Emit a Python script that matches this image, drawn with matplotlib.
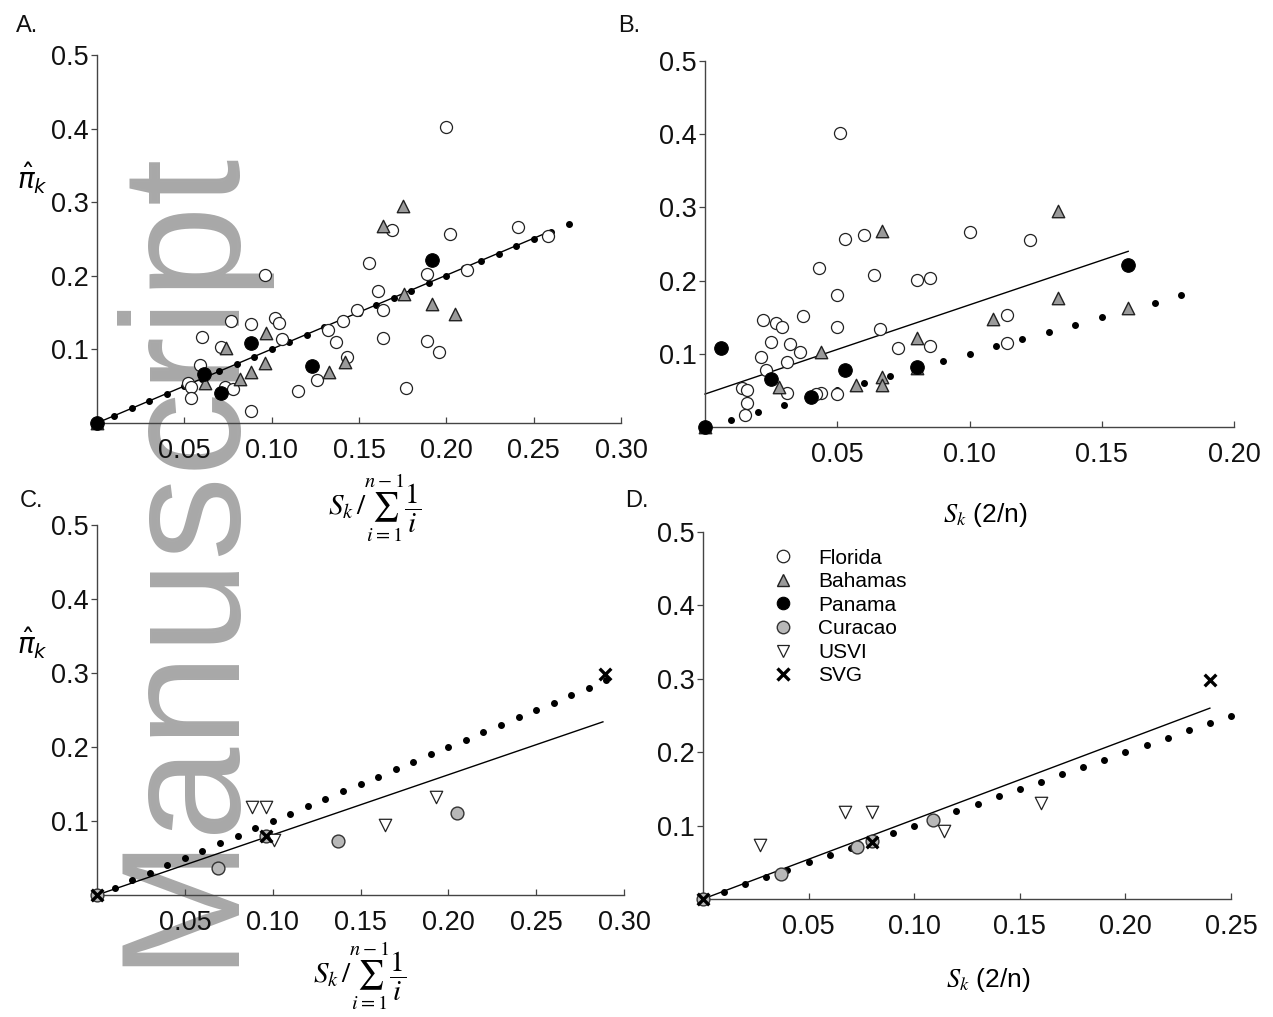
import matplotlib
matplotlib.use('Agg')
import matplotlib.pyplot as plt
from matplotlib.lines import Line2D

plt.rcParams['font.family'] = ['Liberation Sans', 'DejaVu Sans']
plt.rcParams['mathtext.fontset'] = 'stix'

# ---- panel A : pi_k vs S_k / sum(1/i) ----
a_florida_x = [0.200, 0.096, 0.169, 0.241, 0.202, 0.258, 0.156, 0.189, 0.212, 0.161, 0.164, 0.149,
               0.141, 0.132, 0.137, 0.143, 0.164, 0.189, 0.196, 0.177, 0.102, 0.104, 0.106, 0.126,
               0.115, 0.088, 0.077, 0.060, 0.071, 0.059, 0.052, 0.054, 0.054, 0.073, 0.078, 0.088]
a_florida_y = [0.402, 0.201, 0.262, 0.266, 0.257, 0.254, 0.217, 0.203, 0.208, 0.179, 0.154, 0.153,
               0.138, 0.127, 0.110, 0.089, 0.116, 0.111, 0.096, 0.048, 0.143, 0.136, 0.114, 0.059,
               0.044, 0.135, 0.138, 0.117, 0.103, 0.079, 0.055, 0.049, 0.034, 0.049, 0.046, 0.016]
a_bahamas_x = [0.175, 0.164, 0.176, 0.192, 0.205, 0.097, 0.074, 0.096, 0.142, 0.133, 0.088, 0.082, 0.062, 0.0]
a_bahamas_y = [0.295, 0.268, 0.175, 0.162, 0.148, 0.122, 0.102, 0.082, 0.083, 0.069, 0.069, 0.060, 0.055, 0.0]
a_panama_x = [0.192, 0.088, 0.123, 0.061, 0.071, 0.0]
a_panama_y = [0.221, 0.109, 0.078, 0.067, 0.041, 0.0]
a_dots = [0.01, 0.02, 0.03, 0.04, 0.05, 0.06, 0.07, 0.08, 0.09, 0.10, 0.11, 0.12, 0.13, 0.14,
          0.15, 0.16, 0.17, 0.18, 0.19, 0.20, 0.21, 0.22, 0.23, 0.24, 0.25, 0.26, 0.27]
a_fit_x = [0.0, 0.260]
a_fit_y = [0.0, 0.261]

# ---- panel B : pi_k vs S_k (2/n) ----
b_florida_x = [0.051, 0.053, 0.060, 0.100, 0.123, 0.043, 0.064, 0.080, 0.085, 0.050, 0.037, 0.022,
               0.027, 0.029, 0.050, 0.066, 0.114, 0.114, 0.025, 0.032, 0.036, 0.021, 0.031, 0.023,
               0.073, 0.085, 0.014, 0.016, 0.016, 0.015, 0.031, 0.044, 0.042, 0.050]
b_florida_y = [0.402, 0.257, 0.262, 0.266, 0.255, 0.217, 0.208, 0.201, 0.203, 0.180, 0.152, 0.146,
               0.142, 0.137, 0.137, 0.134, 0.153, 0.115, 0.116, 0.114, 0.103, 0.095, 0.089, 0.078,
               0.108, 0.111, 0.053, 0.050, 0.033, 0.016, 0.047, 0.046, 0.045, 0.045]
b_bahamas_x = [0.1335, 0.067, 0.1335, 0.109, 0.160, 0.080, 0.044, 0.028, 0.057, 0.067, 0.067, 0.080, 0.0]
b_bahamas_y = [0.295, 0.268, 0.176, 0.148, 0.162, 0.122, 0.102, 0.055, 0.058, 0.068, 0.058, 0.081, 0.0]
b_panama_x = [0.160, 0.006, 0.025, 0.053, 0.040, 0.080, 0.0]
b_panama_y = [0.221, 0.108, 0.066, 0.078, 0.041, 0.082, 0.0]
b_dots = [0.01, 0.02, 0.03, 0.04, 0.05, 0.06, 0.07, 0.08, 0.09, 0.10, 0.11, 0.12, 0.13, 0.14,
          0.15, 0.16, 0.17, 0.18]
b_fit_x = [0.0, 0.160]
b_fit_y = [0.045, 0.240]

# ---- panel C ----
c_curacao_x = [0.0, 0.069, 0.137, 0.205, 0.096]
c_curacao_y = [0.0, 0.037, 0.073, 0.111, 0.080]
c_usvi_x = [0.088, 0.096, 0.101, 0.164, 0.193]
c_usvi_y = [0.119, 0.119, 0.074, 0.094, 0.132]
c_svg_x = [0.0, 0.096, 0.289]
c_svg_y = [0.0, 0.080, 0.299]
c_dots = [0.01, 0.02, 0.03, 0.04, 0.05, 0.06, 0.07, 0.08, 0.09, 0.10, 0.11, 0.12, 0.13, 0.14,
          0.15, 0.16, 0.17, 0.18, 0.19, 0.20, 0.21, 0.22, 0.23, 0.24, 0.25, 0.26, 0.27, 0.28, 0.29]
c_fit_x = [0.0, 0.288]
c_fit_y = [0.0, 0.234]

# ---- panel D ----
d_curacao_x = [0.0, 0.037, 0.073, 0.109, 0.080]
d_curacao_y = [0.0, 0.034, 0.071, 0.108, 0.079]
d_usvi_x = [0.027, 0.067, 0.080, 0.114, 0.160]
d_usvi_y = [0.073, 0.118, 0.118, 0.092, 0.131]
d_svg_x = [0.0, 0.080, 0.240]
d_svg_y = [0.0, 0.078, 0.299]
d_dots = [0.01, 0.02, 0.03, 0.04, 0.05, 0.06, 0.07, 0.08, 0.09, 0.10, 0.11, 0.12, 0.13, 0.14,
          0.15, 0.16, 0.17, 0.18, 0.19, 0.20, 0.21, 0.22, 0.23, 0.24, 0.25]
d_fit_x = [0.0, 0.240]
d_fit_y = [0.0, 0.260]

y_ticks = [0.1, 0.2, 0.3, 0.4, 0.5]
x_ticks_ac = [0.05, 0.10, 0.15, 0.20, 0.25, 0.30]
x_ticks_b = [0.05, 0.10, 0.15, 0.20]
x_ticks_d = [0.05, 0.10, 0.15, 0.20, 0.25]

styles = {
    'Florida': dict(marker='o', s=75, facecolor='white', edgecolor='#222222', linewidth=0.9),
    'Bahamas': dict(marker='^', s=80, facecolor='#9a9a9a', edgecolor='#222222', linewidth=1.0),
    'Panama': dict(marker='o', s=95, facecolor='black', edgecolor='black', linewidth=0.8),
    'Curacao': dict(marker='o', s=85, facecolor='#b8b8b8', edgecolor='#333333', linewidth=1.0),
    'USVI': dict(marker='v', s=80, facecolor='white', edgecolor='#222222', linewidth=0.9),
    'SVG': dict(marker='x', s=70, color='black', linewidth=2.4),
}

fig = plt.figure(figsize=(12.73, 10.17), dpi=100)

# watermark, behind everything
fig.text(226 / 1273, 1 - 966 / 1017, 'Manuscript', rotation=90, rotation_mode='anchor',
         ha='left', va='baseline', fontsize=121, color='#a8a8a8', zorder=-5)


def setup(ax, xmax, xticks):
    ax.set_facecolor('none')
    ax.set_xlim(0, xmax)
    ax.set_ylim(0, 0.5)
    for s in ['top', 'right']:
        ax.spines[s].set_visible(False)
    for s in ['left', 'bottom']:
        ax.spines[s].set_color('#444444')
        ax.spines[s].set_linewidth(1.0)
    ax.set_xticks(xticks)
    ax.set_xticklabels(['%.2f' % t for t in xticks])
    ax.set_yticks(y_ticks)
    ax.set_yticklabels(['%.1f' % t for t in y_ticks])
    ax.tick_params(axis='x', direction='in', length=4, width=0.9, color='#444444', pad=11,
                   labelsize=19.5, labelcolor='#111111')
    ax.tick_params(axis='y', direction='out', length=4, width=0.9, color='#444444', pad=2,
                   labelsize=19.5, labelcolor='#111111')


def draw(ax, dots, fit_x, fit_y, series):
    ax.plot(fit_x, fit_y, color='black', linewidth=1.0, zorder=2, clip_on=False)
    ax.scatter(dots, dots, s=16, color='black', zorder=3, clip_on=False)
    for name, xs, ys in series:
        ax.scatter(xs, ys, zorder=4, clip_on=False, **styles[name])


axA = fig.add_axes([97 / 1273, 1 - 423 / 1017, 524 / 1273, 368 / 1017])
setup(axA, 0.30, x_ticks_ac)
draw(axA, a_dots, a_fit_x, a_fit_y,
     [('Florida', a_florida_x, a_florida_y), ('Bahamas', a_bahamas_x, a_bahamas_y),
      ('Panama', a_panama_x, a_panama_y)])

axB = fig.add_axes([705 / 1273, 1 - 427 / 1017, 529 / 1273, 366 / 1017])
setup(axB, 0.20, x_ticks_b)
draw(axB, b_dots, b_fit_x, b_fit_y,
     [('Florida', b_florida_x, b_florida_y), ('Bahamas', b_bahamas_x, b_bahamas_y),
      ('Panama', b_panama_x, b_panama_y)])

axC = fig.add_axes([97 / 1273, 1 - 895 / 1017, 527 / 1273, 370 / 1017])
setup(axC, 0.30, x_ticks_ac)
draw(axC, c_dots, c_fit_x, c_fit_y,
     [('Curacao', c_curacao_x, c_curacao_y), ('USVI', c_usvi_x, c_usvi_y),
      ('SVG', c_svg_x, c_svg_y)])

axD = fig.add_axes([703 / 1273, 1 - 899 / 1017, 528 / 1273, 367 / 1017])
setup(axD, 0.25, x_ticks_d)
draw(axD, d_dots, d_fit_x, d_fit_y,
     [('Curacao', d_curacao_x, d_curacao_y), ('USVI', d_usvi_x, d_usvi_y),
      ('SVG', d_svg_x, d_svg_y)])

# legend in panel D
handles = []
for name in ['Florida', 'Bahamas', 'Panama', 'Curacao', 'USVI', 'SVG']:
    st = styles[name]
    if name == 'SVG':
        h = Line2D([], [], linestyle='none', marker='x', color='black', markersize=8,
                   markeredgewidth=2.4, label=name)
    else:
        h = Line2D([], [], linestyle='none', marker=st['marker'], markersize=9,
                   markerfacecolor=st['facecolor'], markeredgecolor=st['edgecolor'],
                   markeredgewidth=st['linewidth'], label=name)
    handles.append(h)
axD.legend(handles=handles, loc='upper left', bbox_to_anchor=(0.131, 0.955), frameon=False,
           fontsize=15, handlelength=1.0, handletextpad=1.2, labelspacing=0.22,
           borderpad=0, borderaxespad=0)

# axis labels
pi_lab = r'$\hat{\pi}_{k}$'
fig.text(32 / 1273, 1 - 178 / 1017, pi_lab, ha='center', va='center', fontsize=20,
         math_fontfamily='dejavusans')
fig.text(32 / 1273, 1 - 643 / 1017, pi_lab, ha='center', va='center', fontsize=20,
         math_fontfamily='dejavusans')

sum_lab = r'$S_{k}\,/\sum_{i=1}^{n-1}\dfrac{1}{i}$'
fig.text(375 / 1273, 1 - 508 / 1017, sum_lab, ha='center', va='center', fontsize=21)
fig.text(360 / 1273, 1 - 976 / 1017, sum_lab, ha='center', va='center', fontsize=21)

sn_lab = r'$S_{k}$ (2/n)'
fig.text(985 / 1273, 1 - 515 / 1017, sn_lab, ha='center', va='center', fontsize=19)
fig.text(988 / 1273, 1 - 980 / 1017, sn_lab, ha='center', va='center', fontsize=19)

# panel letters
for lab, x, y in [('A.', 16, 32), ('B.', 618, 32), ('C.', 20, 507), ('D.', 625, 507)]:
    fig.text(x / 1273, 1 - y / 1017, lab, ha='left', va='baseline', fontsize=17, color='#111111')

plt.savefig('out.png', dpi=100)
